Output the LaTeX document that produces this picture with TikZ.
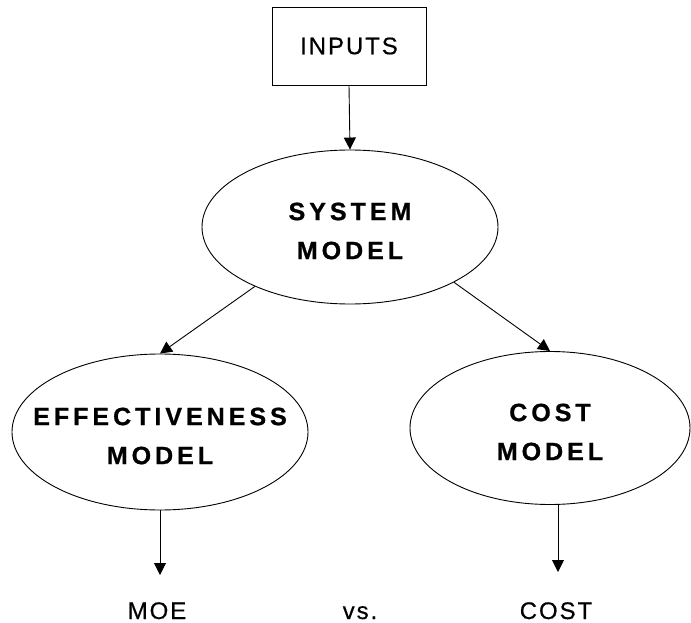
\documentclass[tikz,border=0pt]{standalone}
\usepackage{fontspec}
\setmainfont{Liberation Sans}
\newfontfamily\spacedfont[LetterSpace=16, BoldFeatures={FakeBold=0.8}]{Liberation Sans}
\newfontfamily\plainfont[LetterSpace=8, FakeBold=0.5]{Liberation Sans}
\usetikzlibrary{arrows.meta}
\usetikzlibrary{shapes.geometric}

\begin{document}
\begin{tikzpicture}[x=1pt, y=-1pt,
    model/.style={draw, ellipse, line width=0.9pt, inner sep=0pt},
    modeltext/.style={font=\spacedfont\bfseries\fontsize{25}{39}\selectfont, align=center},
    plaintext/.style={font=\plainfont\fontsize{24}{28}\selectfont},
    arr/.style={-{Triangle[length=12pt, width=12pt]}, line width=0.9pt}]
    \useasboundingbox (0,0) rectangle (691,623);

    % box on top
    \node [draw, line width=0.8pt, minimum width=154pt, minimum height=78pt, plaintext] (inputs) at (349,46) {INPUTS};

    % the three models
    \node [model, minimum width=296pt, minimum height=154pt] (sys) at (350,227) {};
    \node [model, minimum width=296pt, minimum height=156pt] (eff) at (160,432) {};
    \node [model, minimum width=280pt, minimum height=153pt] (cost) at (550,428) {};

    \node [modeltext] (sys text) at ([yshift=-4pt]sys.center) {SYSTEM\\MODEL};
    \node [modeltext] (eff text) at ([yshift=-4pt]eff.center) {EFFECTIVENESS\\MODEL};
    \node [modeltext] (cost text) at ([yshift=-4pt]cost.center) {COST\\MODEL};

    % outputs at the bottom
    \node [plaintext, inner sep=0pt, anchor=base] (moe) at (157,619) {MOE};
    \node [plaintext, inner sep=0pt, anchor=base] (vs) at (360,619) {vs.};
    \node [plaintext, inner sep=0pt, anchor=base] (cost out) at (556,619) {COST};

    \coordinate (moe tip) at (160,575);
    \coordinate (cost tip) at (558,572);

    \draw [arr] (inputs.south) -- (sys.north);
    \draw [arr] (sys.212) -- (eff.north);
    \draw [arr] (sys.-28) -- (cost.north);
    \draw [arr] (eff.south) -- (moe tip);
    \draw [arr] (cost.south -| cost tip) -- (cost tip);

\end{tikzpicture}
\end{document}
